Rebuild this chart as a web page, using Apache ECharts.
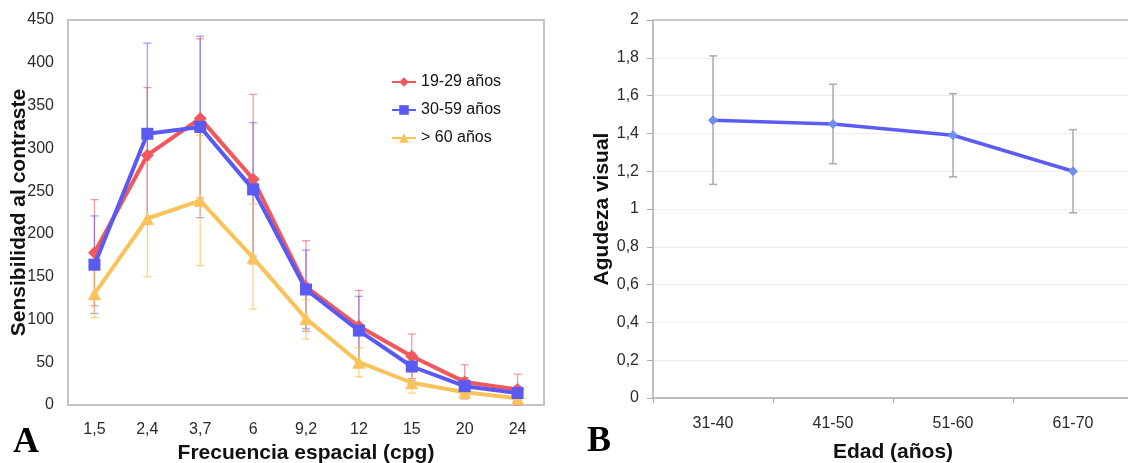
<!DOCTYPE html>
<html>
<head>
<meta charset="utf-8">
<script src="https://cdn.jsdelivr.net/npm/echarts@6/dist/echarts.min.js"></script>
<style>html,body{margin:0;padding:0;background:#fff}#c{width:1128px;height:463px}</style>
</head>
<body>
<div id="c"></div>
<script>
// ---- Panel A data ----
var freqCats = ['1,5','2,4','3,7','6','9,2','12','15','20','24'];
var name1 = '19-29 años', name2 = '30-59 años', name3 = '> 60 años';
var redVal  = [178, 292, 335, 264, 138, 92, 57, 27, 18];
var redHigh = [240, 371, 428, 363, 192, 134, 83, 47, 36];
var redLow  = [116, 213, 242, 165, 86, 50, 31, 7, 0];
var blueVal  = [164, 317, 325, 252, 135, 87, 45, 22, 14];
var blueHigh = [221, 423, 431, 330, 181, 127, 61, 32, 22];
var blueLow  = [107, 211, 219, 174, 89, 47, 29, 12, 6];
var yelVal  = [130, 218, 239, 172, 101, 50, 26, 15, 8];
var yelHigh = [158, 286, 315, 235, 123, 67, 38, 22, 13];
var yelLow  = [102, 150, 163, 112, 77, 33, 14, 8, 3];
// ---- Panel B data ----
var ageCats = ['31-40','41-50','51-60','61-70'];
var acuity     = [1.47, 1.45, 1.39, 1.20];
var acuityHigh = [1.81, 1.66, 1.61, 1.42];
var acuityLow  = [1.13, 1.24, 1.17, 0.98];

var RED = '#F2575C', BLUE = '#5A5AF2', YEL = '#FAC25A';

function errData(hi, lo){ return hi.map(function(h,i){ return [i, lo[i], h]; }); }
function errRender(color, width, cap){
  return function(params, api){
    var top = api.coord([api.value(0), api.value(2)]);
    var bot = api.coord([api.value(0), api.value(1)]);
    var st = {stroke: color, lineWidth: width};
    return {type:'group', children:[
      {type:'line', shape:{x1:top[0],y1:top[1],x2:bot[0],y2:bot[1]}, style:st},
      {type:'line', shape:{x1:top[0]-cap,y1:top[1],x2:top[0]+cap,y2:top[1]}, style:st},
      {type:'line', shape:{x1:bot[0]-cap,y1:bot[1],x2:bot[0]+cap,y2:bot[1]}, style:st}
    ]};
  };
}
var FONT = '"Liberation Sans", Arial, sans-serif';
var lblStyle = {color:'#2a2a2a', fontSize:16, fontFamily:FONT};
var nameStyle = {color:'#111', fontSize:21, fontWeight:'bold', fontFamily:FONT};

var chart = echarts.init(document.getElementById('c'), null, {renderer:'canvas'});
chart.setOption({
  animation:false,
  backgroundColor:'#fff',
  grid:[
    {left:68, top:20, width:476, height:385, outerBoundsMode:'none', containLabel:false,
     show:true, borderColor:'#c4c4c4', borderWidth:2, backgroundColor:'transparent'},
    {left:653, top:20, width:480, height:378, outerBoundsMode:'none', containLabel:false, show:false}
  ],
  legend:{
    left:386, top:69, orient:'vertical', itemGap:12, itemWidth:24, itemHeight:12,
    textStyle:{color:'#111', fontSize:16, fontFamily:FONT},
    data:[name1,name2,name3]
  },
  xAxis:[
    {gridIndex:0, type:'category', data:freqCats, boundaryGap:true,
     axisLine:{lineStyle:{color:'#c4c4c4', width:2}}, axisTick:{show:false},
     axisLabel:Object.assign({margin:17}, lblStyle),
     name:'Frecuencia espacial (cpg)', nameLocation:'middle', nameGap:37, nameTextStyle:nameStyle},
    {gridIndex:1, type:'category', data:ageCats, boundaryGap:true,
     axisLine:{lineStyle:{color:'#aaa', width:1.5}}, axisTick:{show:true, length:5, lineStyle:{color:'#aaa'}},
     axisLabel:Object.assign({margin:18}, lblStyle),
     name:'Edad (años)', nameLocation:'middle', nameGap:44, nameTextStyle:nameStyle},
    {gridIndex:1, type:'category', data:ageCats, position:'top', boundaryGap:true,
     axisLine:{lineStyle:{color:'#bbb', width:1.5}}, axisTick:{show:false}, axisLabel:{show:false}}
  ],
  yAxis:[
    {gridIndex:0, type:'value', min:0, max:450, interval:50,
     axisLine:{show:true, lineStyle:{color:'#c4c4c4', width:2}}, axisTick:{show:false},
     splitLine:{show:false},
     axisLabel:Object.assign({margin:14}, lblStyle),
     name:'Sensibilidad al contraste', nameLocation:'middle', nameGap:38, nameMoveOverlap:false, nameTextStyle:nameStyle},
    {gridIndex:1, type:'value', min:0, max:2, interval:0.2,
     axisLine:{show:true, lineStyle:{color:'#aaa', width:1.5}}, axisTick:{show:true, length:6, lineStyle:{color:'#aaa'}},
     splitLine:{show:true, lineStyle:{color:'#eee'}},
     axisLabel:Object.assign({margin:14, formatter:function(v){ return String(Math.round(v*10)/10).replace('.', ','); }}, lblStyle),
     name:'Agudeza visual', nameLocation:'middle', nameGap:38, nameTextStyle:nameStyle}
  ],
  series:[
    {type:'custom', xAxisIndex:0, yAxisIndex:0, z:1, silent:true, renderItem:errRender('rgba(242,87,92,0.6)',1.3,4), data:errData(redHigh, redLow)},
    {type:'custom', xAxisIndex:0, yAxisIndex:0, z:1, silent:true, renderItem:errRender('rgba(90,90,242,0.55)',1.3,4), data:errData(blueHigh, blueLow)},
    {type:'custom', xAxisIndex:0, yAxisIndex:0, z:1, silent:true, renderItem:errRender('rgba(250,194,90,0.7)',1.3,4), data:errData(yelHigh, yelLow)},
    {name:name1, type:'line', xAxisIndex:0, yAxisIndex:0, z:3, data:redVal, color:RED,
     lineStyle:{width:4, color:RED}, symbol:'diamond', symbolSize:13, itemStyle:{color:RED}},
    {name:name2, type:'line', xAxisIndex:0, yAxisIndex:0, z:4, data:blueVal, color:BLUE,
     lineStyle:{width:4, color:BLUE}, symbol:'rect', symbolSize:12, itemStyle:{color:BLUE}},
    {name:name3, type:'line', xAxisIndex:0, yAxisIndex:0, z:3, data:yelVal, color:YEL,
     lineStyle:{width:4, color:YEL}, symbol:'triangle', symbolSize:13, itemStyle:{color:YEL}},
    {type:'custom', xAxisIndex:1, yAxisIndex:1, z:1, silent:true, renderItem:errRender('#aaa',1.5,4), data:errData(acuityHigh, acuityLow)},
    {type:'line', xAxisIndex:1, yAxisIndex:1, z:3, data:acuity, color:'#5C5CF2',
     lineStyle:{width:3.5, color:'#5C5CF2'}, symbol:'diamond', symbolSize:10, itemStyle:{color:'#6E8EF0'}}
  ],
  graphic:[
    {type:'text', left:13, top:425, style:{text:'A', font:'bold 36px "Liberation Serif", "Times New Roman", serif', fill:'#000'}},
    {type:'text', left:587, top:424, style:{text:'B', font:'bold 36px "Liberation Serif", "Times New Roman", serif', fill:'#000'}}
  ]
});
</script>
</body>
</html>
